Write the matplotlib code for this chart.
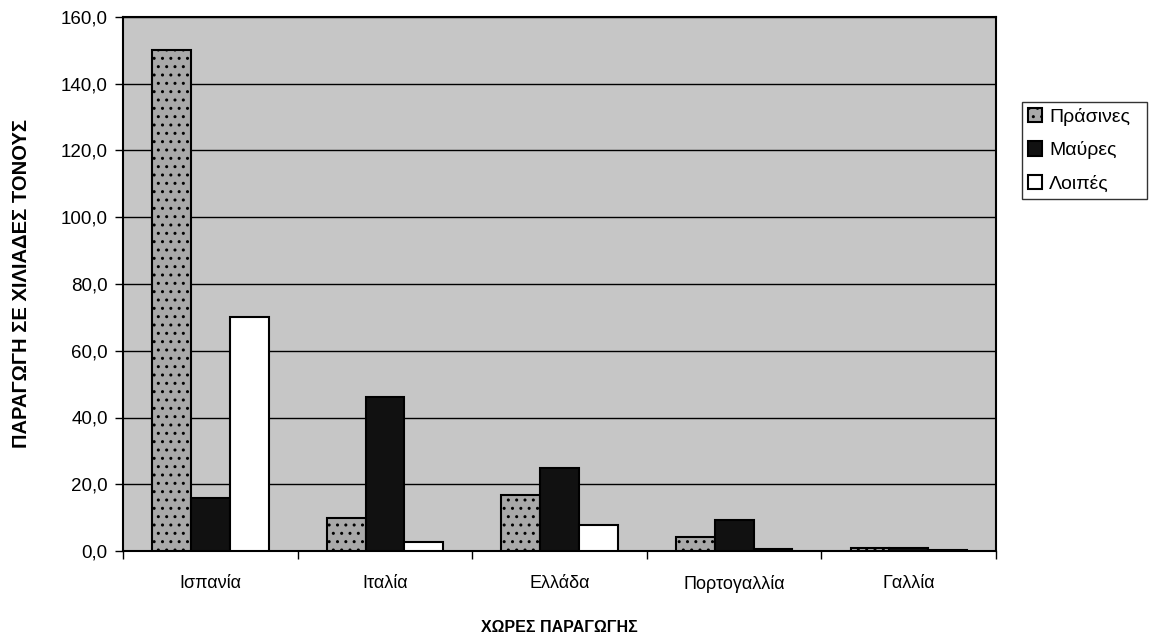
import matplotlib
matplotlib.use("Agg")
import matplotlib.pyplot as plt
import numpy as np
from matplotlib.ticker import FuncFormatter, FixedLocator

plt.rcParams['font.family'] = ['Liberation Sans', 'DejaVu Sans']

countries = ["Ισπανία", "Ιταλία", "Ελλάδα", "Πορτογαλλία", "Γαλλία"]
prasines = [150.0, 10.0, 16.8, 4.2, 0.9]
mavres = [16.0, 46.0, 25.0, 9.2, 0.9]
loipes = [70.0, 2.7, 7.8, 0.5, 0.3]
series_names = ["Πράσινες", "Μαύρες", "Λοιπές"]
yticks = [0, 20, 40, 60, 80, 100, 120, 140, 160]

W, H = 1151, 637
fig = plt.figure(figsize=(W / 100, H / 100), dpi=100)
left, right, top, bottom = 123, 996, 17, 551
ax = fig.add_axes([left / W, 1 - bottom / H, (right - left) / W, (bottom - top) / H])
ax.set_facecolor('#c6c6c6')

x = np.arange(len(countries))
w = 1 / 4.5
styles = [
    dict(facecolor='#a9a9a9', edgecolor='black', hatch='..'),
    dict(facecolor='#111111', edgecolor='black', hatch=''),
    dict(facecolor='white', edgecolor='black', hatch=''),
]
for i, (vals, name) in enumerate(zip([prasines, mavres, loipes], series_names)):
    ax.bar(x + (i - 1) * w, vals, width=w, label=name, linewidth=1.5,
           zorder=3, **styles[i])

ax.set_xlim(-0.5, len(countries) - 0.5)
ax.set_ylim(0, 160)
ax.yaxis.set_major_locator(FixedLocator(yticks))
ax.yaxis.set_major_formatter(FuncFormatter(lambda v, p: f"{v:.1f}".replace('.', ',')))
ax.grid(axis='y', color='black', linewidth=1.0, zorder=1)
ax.set_axisbelow(True)

ax.set_xticks(x)
ax.set_xticklabels(countries, fontsize=13)
ax.xaxis.set_minor_locator(FixedLocator(np.arange(-0.5, len(countries), 1.0)))
ax.tick_params(axis='x', which='major', length=0, pad=17)
ax.tick_params(axis='x', which='minor', length=6, width=1, direction='out')
ax.tick_params(axis='y', length=6, width=1, direction='out', labelsize=13.5, pad=5)

for s in ax.spines.values():
    s.set_linewidth(1.5)
    s.set_color('black')

ax.set_xlabel("ΧΩΡΕΣ ΠΑΡΑΓΩΓΗΣ", fontsize=11.5, fontweight='bold', labelpad=20)
ax.set_ylabel("ΠΑΡΑΓΩΓΗ ΣΕ ΧΙΛΙΑΔΕΣ ΤΟΝΟΥΣ", fontsize=14.5, fontweight='bold')
ax.yaxis.set_label_coords((31 - left) / (right - left), 0.5)

leg = ax.legend(loc='upper left', bbox_to_anchor=(1022 / W, 1 - 202 / H, 125 / W, 100 / H),
                bbox_transform=fig.transFigure, mode='expand', fontsize=14,
                frameon=True, fancybox=False, edgecolor='black', borderpad=0.3,
                handlelength=0.75, handleheight=0.75, handletextpad=0.35, labelspacing=0.8,
                borderaxespad=0)
leg.get_frame().set_linewidth(1.0)

fig.savefig("out.png", dpi=100)
